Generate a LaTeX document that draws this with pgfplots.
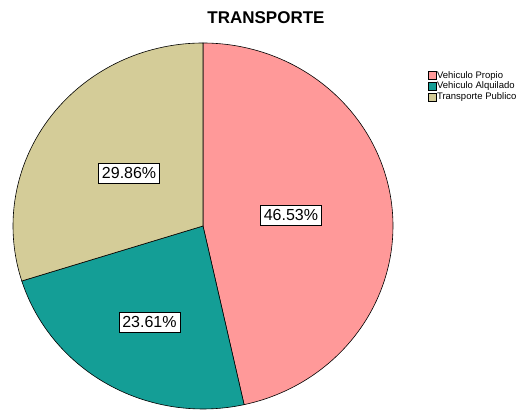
\documentclass[border=0pt]{standalone}
\usepackage{pgfplots}
\pgfplotsset{compat=1.18}
\usepackage{pgfplotstable}
\usepackage{fontspec}
\setmainfont{Liberation Sans}
\definecolor{cPropio}{RGB}{255,153,153}
\definecolor{cAlq}{RGB}{20,158,150}
\definecolor{cPub}{RGB}{212,204,152}
\pgfplotstableread{
label value
Propio 46.53
Alquilado 23.61
Publico 29.86
}\pietable
\begin{document}
\begin{tikzpicture}[x=1pt,y=1pt]
\path[use as bounding box] (0,0) rectangle (519,411);
\pgfplotstablegetelem{0}{value}\of\pietable \let\vA\pgfplotsretval
\pgfplotstablegetelem{1}{value}\of\pietable \let\vB\pgfplotsretval
\pgfplotstablegetelem{2}{value}\of\pietable \let\vC\pgfplotsretval
\pgfmathsetmacro\aA{90}
\pgfmathsetmacro\aB{90-3.6*\vA}
\pgfmathsetmacro\aC{\aB-3.6*\vB}
\pgfmathsetmacro\aD{\aC-3.6*\vC}
\node[font=\bfseries\fontsize{17}{20}\selectfont] at (266,393) {TRANSPORTE};
\begin{axis}[at={(203pt,185pt)}, anchor=center, scale only axis,
  width=380pt, height=366pt, xmin=-1, xmax=1, ymin=-1, ymax=1,
  axis lines=none, clip=false,
  legend style={at={(axis cs:1.184,0.85)}, anchor=north west, draw=none, fill=none,
    font=\fontsize{9.5}{11}\selectfont, row sep=1.5pt, inner sep=0pt,
    nodes={inner sep=0.5pt}},
  legend cell align=left,
]
\addplot[fill=cPropio, draw=black, line width=0.6pt, domain=\aB:\aA, samples=120, variable=\t, forget plot] ({cos(t)},{sin(t)}) -- (axis cs:0,0) -- cycle;
\addplot[fill=cAlq, draw=black, line width=0.6pt, domain=\aC:\aB, samples=80, variable=\t, forget plot] ({cos(t)},{sin(t)}) -- (axis cs:0,0) -- cycle;
\addplot[fill=cPub, draw=black, line width=0.6pt, domain=\aD:\aC, samples=90, variable=\t, forget plot] ({cos(t)},{sin(t)}) -- (axis cs:0,0) -- cycle;
\pgfplotsset{legend image code/.code={\draw[#1, draw=black, line width=0.4pt] (0pt,-4pt) rectangle (8pt,4pt);}}
\addlegendimage{fill=cPropio}
\addlegendentry{Vehiculo Propio}
\addlegendimage{fill=cAlq}
\addlegendentry{Vehiculo Alquilado}
\addlegendimage{fill=cPub}
\addlegendentry{Transporte Publico}
\tikzset{pielabel/.style={draw=black, fill=white, line width=0.5pt, inner xsep=3.5pt, inner ysep=4.5pt, font=\fontsize{16}{18}\selectfont}}
\node[pielabel] at (axis cs:0.463,0.060) {\vA\%};
\node[pielabel] at (axis cs:-0.282,-0.527) {\vB\%};
\node[pielabel] at (axis cs:-0.389,0.290) {\vC\%};
\end{axis}
\end{tikzpicture}
\end{document}
